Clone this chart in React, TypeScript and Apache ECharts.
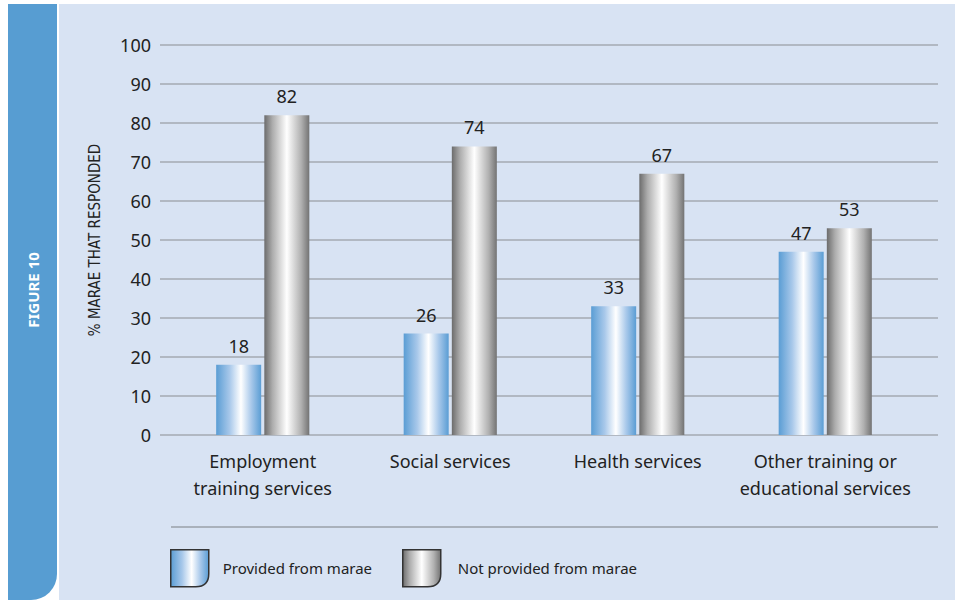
import React, { useEffect, useRef } from "react";
import * as echarts from "echarts";

const categories = [
  "Employment\ntraining services",
  "Social services",
  "Health services",
  "Other training or\neducational services",
];
const providedValues = [18, 26, 33, 47];
const notProvidedValues = [82, 74, 67, 53];
const seriesNames = ["Provided from marae", "Not provided from marae"];
const yTicks = { min: 0, max: 100, interval: 10 };

const FONT = "'Noto Sans', 'Open Sans', sans-serif";
const NAMEFONT = "'DejaVu Sans Condensed', 'Liberation Sans Narrow', sans-serif";

const blueGrad = () =>
  new echarts.graphic.LinearGradient(0, 0, 1, 0, [
    { offset: 0, color: "#5a9dd4" },
    { offset: 0.3, color: "#a8c8ea" },
    { offset: 0.55, color: "#ffffff" },
    { offset: 0.78, color: "#a8c8ea" },
    { offset: 1, color: "#5a9dd4" },
  ]);
const grayGrad = () =>
  new echarts.graphic.LinearGradient(0, 0, 1, 0, [
    { offset: 0, color: "#6c6c6c" },
    { offset: 0.18, color: "#acacac" },
    { offset: 0.5, color: "#ffffff" },
    { offset: 0.82, color: "#b0b0b0" },
    { offset: 1, color: "#737373" },
  ]);

const iconPath = "path://M0,0 L38,0 L38,24 Q38,37 25,37 L0,37 Z";

export default function App() {
  const ref = useRef<HTMLDivElement>(null);
  useEffect(() => {
    if (!ref.current) return;
    const chart = echarts.init(ref.current, undefined, { renderer: "svg" });
    const legendBase = {
      top: 544,
      itemWidth: 38,
      itemHeight: 37,
      icon: iconPath,
      itemStyle: { borderColor: "#333", borderWidth: 1.5 },
    };
    const option: any = {
      animation: false,
      backgroundColor: "#ffffff",
      graphic: [
        {
          type: "rect",
          z: -10,
          silent: true,
          shape: { x: 59, y: 4, width: 900, height: 600 },
          style: { fill: "#d8e3f3" },
        },
        {
          type: "rect",
          z: -10,
          silent: true,
          shape: { x: 8, y: 4, width: 49, height: 596, r: [0, 0, 26, 0] },
          style: { fill: "#579dd2" },
        },
        {
          type: "text",
          x: 33,
          y: 290,
          rotation: Math.PI / 2,
          style: {
            text: "FIGURE 10",
            fill: "#ffffff",
            font: `bold 15px ${FONT}`,
            align: "center",
            verticalAlign: "middle",
          },
        },
        {
          type: "line",
          silent: true,
          shape: { x1: 171, y1: 527, x2: 938, y2: 527 },
          style: { stroke: "#9aa0a8", lineWidth: 1.5 },
        },
      ],
      legend: [
        {
          ...legendBase,
          data: [seriesNames[0]],
          left: 165,
          textStyle: { fontFamily: FONT, fontSize: 15, color: "#222", padding: [0, 0, 0, 9] },
        },
        {
          ...legendBase,
          data: [seriesNames[1]],
          left: 397,
          textStyle: { fontFamily: FONT, fontSize: 15, color: "#222", padding: [0, 0, 0, 12] },
        },
      ],
      grid: [
        { left: 160, right: 17, top: 45, height: 390 },
        { left: 169, width: 750, top: 45, height: 390 },
      ],
      xAxis: [
        { type: "value", gridIndex: 0, show: false, min: 0, max: 1 },
        {
          type: "category",
          gridIndex: 1,
          data: categories,
          axisLine: { show: false },
          axisTick: { show: false },
          axisLabel: {
            fontFamily: FONT,
            fontSize: 18,
            color: "#222",
            margin: 12,
            lineHeight: 27,
            interval: 0,
          },
        },
      ],
      yAxis: [
        {
          type: "value",
          gridIndex: 0,
          min: yTicks.min,
          max: yTicks.max,
          interval: yTicks.interval,
          name: "% MARAE THAT RESPONDED",
          nameLocation: "middle",
          nameGap: 58,
          nameTextStyle: { fontFamily: NAMEFONT, fontSize: 15, color: "#222" },
          axisLine: { show: false },
          axisTick: { show: false },
          axisLabel: { fontFamily: FONT, fontSize: 18, color: "#222", margin: 9 },
          splitLine: { lineStyle: { color: "#a4aab2", width: 1.5 } },
        },
        {
          type: "value",
          gridIndex: 1,
          min: yTicks.min,
          max: yTicks.max,
          interval: yTicks.interval,
          show: false,
          splitLine: { show: false },
        },
      ],
      series: [
        {
          name: seriesNames[0],
          type: "bar",
          xAxisIndex: 1,
          yAxisIndex: 1,
          data: providedValues,
          barWidth: 45,
          barGap: "7%",
          itemStyle: { color: blueGrad() },
          label: {
            show: true,
            position: "top",
            distance: 10,
            fontFamily: FONT,
            fontSize: 18,
            color: "#222",
          },
        },
        {
          name: seriesNames[1],
          type: "bar",
          xAxisIndex: 1,
          yAxisIndex: 1,
          data: notProvidedValues,
          barWidth: 45,
          barGap: "7%",
          itemStyle: { color: grayGrad() },
          label: {
            show: true,
            position: "top",
            distance: 10,
            fontFamily: FONT,
            fontSize: 18,
            color: "#222",
          },
        },
      ],
    };
    chart.setOption(option);
    return () => chart.dispose();
  }, []);
  return (
    <div
      ref={ref}
      style={{ position: "absolute", left: 0, top: 0, width: 955, height: 600 }}
    />
  );
}
